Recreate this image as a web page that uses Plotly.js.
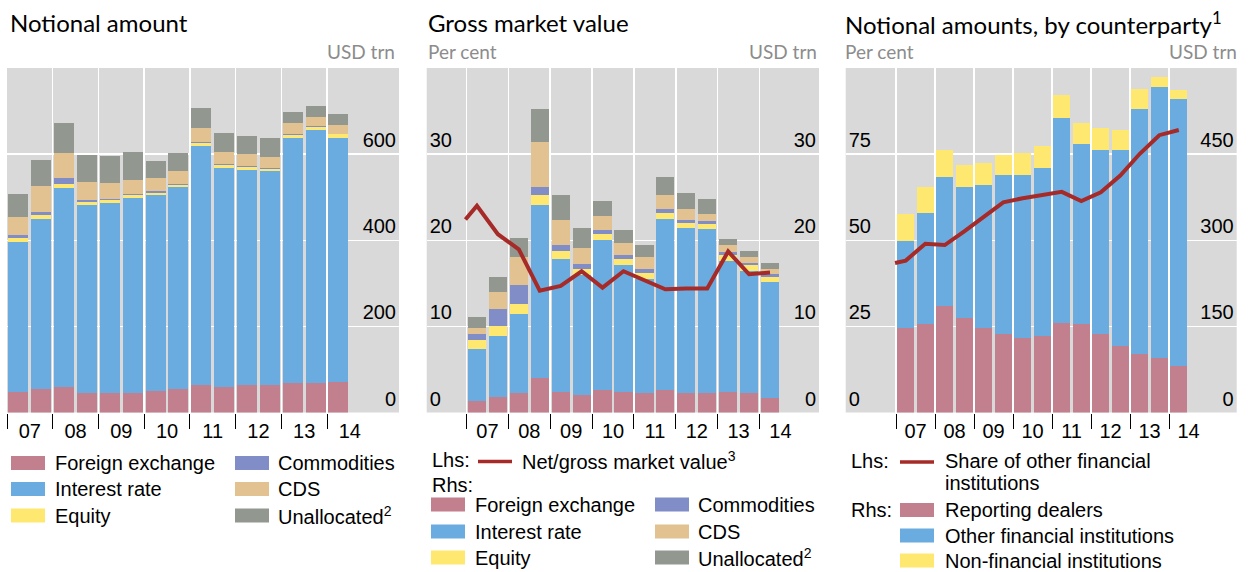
<!DOCTYPE html>
<html><head><meta charset="utf-8">
<script src="https://cdn.plot.ly/plotly-3.0.1.min.js"></script>
<style>html,body{margin:0;padding:0;background:#fff}#chart{width:1249px;height:572px}</style>
</head><body><div id="chart"></div>
<script>
// ---------- data ----------
const periods = ['2007 H1','2007 H2','2008 H1','2008 H2','2009 H1','2009 H2','2010 H1','2010 H2',
                 '2011 H1','2011 H2','2012 H1','2012 H2','2013 H1','2013 H2','2014 H1'];
const years = ['07','08','09','10','11','12','13','14'];
const lineStartX = -0.55; // end-2006 observation of the ratio lines

// Panel 1: notional amount, USD trn
const fx1  = [47,54,60,46,46,46,50.5,55,63,60,64.5,64.5,69,67.5,72];
const ir1  = [348,395,461,436,440,452,454,468,556,507.5,498.5,496,568.5,588.5,565.5];
const eq1  = [9.5,10,8.5,6,7,8,6,5.5,7,7,7,4.5,7,7,9.3];
const com1 = [7,6,14.5,5.5,2.5,1.5,3,2,3,2.5,2,2.5,2.3,2.4,1];
const cds1 = [41.5,61,58.5,42,37,32.5,30,29.5,32,28,28,25.5,25.5,21,20];
const un1  = [54,60,70.5,63,63,65,40,42,46,44,42,44.5,25.5,25.7,25.5];

// Panel 2: gross market value, USD trn (rhs) and net/gross ratio, per cent (lhs)
const fx2  = [1.36,1.82,2.29,4.03,2.4,2.09,2.56,2.4,2.29,2.64,2.29,2.29,2.4,2.29,1.7];
const ir2  = [6.04,7.09,9.18,20.12,15.47,13.91,17.52,14.77,13.25,19.88,19.18,19.07,15.24,14.18,13.5];
const eq2  = [1.0,1.17,1.17,1.05,0.93,0.7,0.7,0.7,0.7,0.7,0.58,0.58,0.69,0.7,0.58];
const com2 = [0.75,1.97,2.2,1.04,0.7,0.59,0.46,0.46,0.46,0.46,0.35,0.35,0.35,0.23,0.34];
const cds2 = [0.7,1.98,3.26,5.12,2.9,1.86,1.63,1.4,1.4,1.62,1.28,0.81,0.82,0.7,0.58];
const un2  = [1.27,1.75,2.2,3.84,2.9,2.32,1.73,1.51,1.4,1.99,1.86,1.74,0.7,0.7,0.7];
const netGross = [22.4,24.0,20.7,18.95,14.15,14.7,16.4,14.5,16.4,15.3,14.3,14.4,14.4,18.7,16.05,16.25];

// Panel 3: notional amounts by counterparty, USD trn (rhs) and share, per cent (lhs)
const rd3  = [146.5,154.7,186,164,146.5,136,130.2,132.6,156.4,154.7,137.2,115.1,102.3,94.2,81.4];
const ofi3 = [153,193.6,225,228,250.5,276.8,282.6,294.1,355.8,312.2,319.2,341.3,425.6,472.1,463.9];
const nfi3 = [45.4,43.6,45.4,38.4,38.4,34.9,38.4,36.7,40.1,36.6,38.4,34.9,34.9,17.4,15.7];
const shareOFI = [43.4,44.1,49.0,48.6,52.6,56.9,61.0,62.2,63.0,64.05,61.4,63.9,68.8,75.1,80.5,82.0];

const ticks1 = [0,200,400,600];
const ticks2 = [0,10,20,30];
const ticks3L = [0,25,50,75];
const ticks3R = [0,150,300,450];

// ---------- styles ----------
const C = {fx:'#c27f8e', ir:'#6aace0', eq:'#ffe870', com:'#808dc7', cds:'#e2c291', un:'#929890',
           line:'#a62b28', bg:'#d9d9d9'};
const W = 1249, H = 572;
const PX = v => v / W;
const PY = v => 1 - v / H;
const FONT = 'Liberation Sans, Arial, sans-serif';
const TFONT = 'Lato, Calibri, sans-serif';

const barX = periods.map((p, i) => i);
const lineX = [lineStartX].concat(barX);
const boundaries = years.map((y, i) => 2 * i - 0.5);
const yearCentres = years.map((y, i) => 2 * i + 0.5);

function bars(xa, ya, list) {
  return list.map(s => ({
    type: 'bar', x: barX, y: s.v, name: s.n, xaxis: xa, yaxis: ya, width: 0.87,
    marker: {color: s.c, line: {width: 0}}, showlegend: false, hoverinfo: 'x+y+name'
  }));
}

const traces = [].concat(
  bars('x', 'y', [
    {n:'Foreign exchange', v:fx1, c:C.fx}, {n:'Interest rate', v:ir1, c:C.ir},
    {n:'Equity', v:eq1, c:C.eq}, {n:'Commodities', v:com1, c:C.com},
    {n:'CDS', v:cds1, c:C.cds}, {n:'Unallocated', v:un1, c:C.un}]),
  bars('x2', 'y2', [
    {n:'Foreign exchange', v:fx2, c:C.fx}, {n:'Interest rate', v:ir2, c:C.ir},
    {n:'Equity', v:eq2, c:C.eq}, {n:'Commodities', v:com2, c:C.com},
    {n:'CDS', v:cds2, c:C.cds}, {n:'Unallocated', v:un2, c:C.un}]),
  [{type:'scatter', mode:'lines', x: lineX, y: netGross, xaxis:'x2', yaxis:'y3',
    line:{color:C.line, width:4}, name:'Net/gross market value', showlegend:false}],
  bars('x3', 'y4', [
    {n:'Reporting dealers', v:rd3, c:C.fx}, {n:'Other financial institutions', v:ofi3, c:C.ir},
    {n:'Non-financial institutions', v:nfi3, c:C.eq}]),
  [{type:'scatter', mode:'lines', x: lineX, y: shareOFI, xaxis:'x3', yaxis:'y5',
    line:{color:C.line, width:4}, name:'Share of other financial institutions', showlegend:false}]
);

const yDom = [PY(412.5), PY(68)];

function xAxis(d0, d1, range, anchor) {
  return {
    domain: [PX(d0), PX(d1)], range: range, anchor: anchor, fixedrange: true,
    tickmode: 'array', tickvals: yearCentres, ticktext: years,
    ticks: 'outside', ticklen: 0.5, tickcolor: 'rgba(0,0,0,0)',
    showgrid: false, zeroline: false, showline: false,
    tickfont: {family: FONT, size: 20, color: '#000'},
    minor: {tickmode: 'array', tickvals: boundaries, ticks: 'outside', ticklen: 15,
            tickcolor: '#000', tickwidth: 1, showgrid: true, gridcolor: '#ffffff', gridwidth: 1.5}
  };
}
function yAxis(side, range, tv, anchor, extra) {
  return Object.assign({
    domain: yDom, side: side, range: range, anchor: anchor, fixedrange: true,
    tickmode: 'array', tickvals: tv, ticks: '', ticklabelposition: 'inside top',
    showgrid: true, gridcolor: '#ffffff', gridwidth: 1.5, zeroline: false, showline: false,
    tickfont: {family: FONT, size: 20, color: '#000'}
  }, extra || {});
}

// ---------- text: titles, units, legends ----------
const ann = [];
const shp = [];
function txt(t, x, y, opt) {
  opt = opt || {};
  ann.push({text: t, xref: 'paper', yref: 'paper', x: PX(x), y: PY(y), showarrow: false,
    xanchor: opt.xa || 'left', yanchor: 'middle', align: 'left',
    font: {family: opt.f || FONT, size: opt.s || 20, color: opt.c || '#000'}});
}
function swatch(x, y, color) {
  shp.push({type: 'rect', xref: 'paper', yref: 'paper', x0: PX(x), x1: PX(x + 34),
    y0: PY(y + 7), y1: PY(y - 7), fillcolor: color, line: {width: 0}});
}
function lineSwatch(x, y) {
  shp.push({type: 'line', xref: 'paper', yref: 'paper', x0: PX(x), x1: PX(x + 34),
    y0: PY(y), y1: PY(y), line: {color: C.line, width: 3.5}});
}

// titles
txt('Notional amount', 8, 22.5, {f: TFONT, s: 24});
txt('Gross market value', 425.5, 22.5, {f: TFONT, s: 24});
txt('Notional amounts, by counterparty<sup>1</sup>', 843, 22.5, {f: TFONT, s: 24});
// units
const grey = '#8c8c8c';
txt('USD trn', 397, 51, {f: TFONT, s: 19, c: grey, xa: 'right'});
txt('Per cent', 426, 51, {f: TFONT, s: 19, c: grey});
txt('USD trn', 819, 51, {f: TFONT, s: 19, c: grey, xa: 'right'});
txt('Per cent', 843, 51, {f: TFONT, s: 19, c: grey});
txt('USD trn', 1239, 51, {f: TFONT, s: 19, c: grey, xa: 'right'});

// legend panel 1
const rows1 = [463, 489, 515.5];
[['Foreign exchange', C.fx], ['Interest rate', C.ir], ['Equity', C.eq]].forEach((e, i) => {
  swatch(11, rows1[i], e[1]); txt(e[0], 53, rows1[i]);
});
[['Commodities', C.com], ['CDS', C.cds], ['Unallocated<sup>2</sup>', C.un]].forEach((e, i) => {
  swatch(235, rows1[i], e[1]); txt(e[0], 276, rows1[i]);
});
// legend panel 2
txt('Lhs:', 430, 460); lineSwatch(478, 461.5); txt('Net/gross market value<sup>3</sup>', 520, 460);
txt('Rhs:', 430, 485);
const rows2 = [504.5, 531.5, 557.5];
[['Foreign exchange', C.fx], ['Interest rate', C.ir], ['Equity', C.eq]].forEach((e, i) => {
  swatch(431, rows2[i], e[1]); txt(e[0], 473, rows2[i]);
});
[['Commodities', C.com], ['CDS', C.cds], ['Unallocated<sup>2</sup>', C.un]].forEach((e, i) => {
  swatch(655, rows2[i], e[1]); txt(e[0], 696, rows2[i]);
});
// legend panel 3
txt('Lhs:', 849, 461); lineSwatch(900, 462);
txt('Share of other financial', 943, 461); txt('institutions', 943, 483);
txt('Rhs:', 849, 510);
const rows3 = [510, 535.5, 560.5];
[['Reporting dealers', C.fx], ['Other financial institutions', C.ir], ['Non-financial institutions', C.eq]].forEach((e, i) => {
  swatch(900, rows3[i], e[1]); txt(e[0], 943, rows3[i]);
});

const layout = {
  width: W, height: H, margin: {l: 0, r: 0, t: 0, b: 0},
  paper_bgcolor: '#ffffff', plot_bgcolor: C.bg, barmode: 'stack', bargap: 0.13,
  showlegend: false, font: {family: FONT, size: 20, color: '#000'},
  xaxis:  xAxis(7, 399, [-0.5, 16.65], 'y'),
  yaxis:  yAxis('right', [0, 800], ticks1, 'x'),
  xaxis2: xAxis(426.7, 819, [-2.4, 16.34], 'y2'),
  yaxis2: yAxis('right', [0, 40], ticks2, 'x2'),
  yaxis3: yAxis('left', [0, 40], ticks2, 'x2', {overlaying: 'y2', showgrid: false}),
  xaxis3: xAxis(845.7, 1236.7, [-3.08, 16.97], 'y4'),
  yaxis4: yAxis('right', [0, 600], ticks3R, 'x3'),
  yaxis5: yAxis('left', [0, 100], ticks3L, 'x3', {overlaying: 'y4', showgrid: false}),
  annotations: ann, shapes: shp
};

Plotly.newPlot('chart', traces, layout, {staticPlot: true, displayModeBar: false});
</script></body></html>
